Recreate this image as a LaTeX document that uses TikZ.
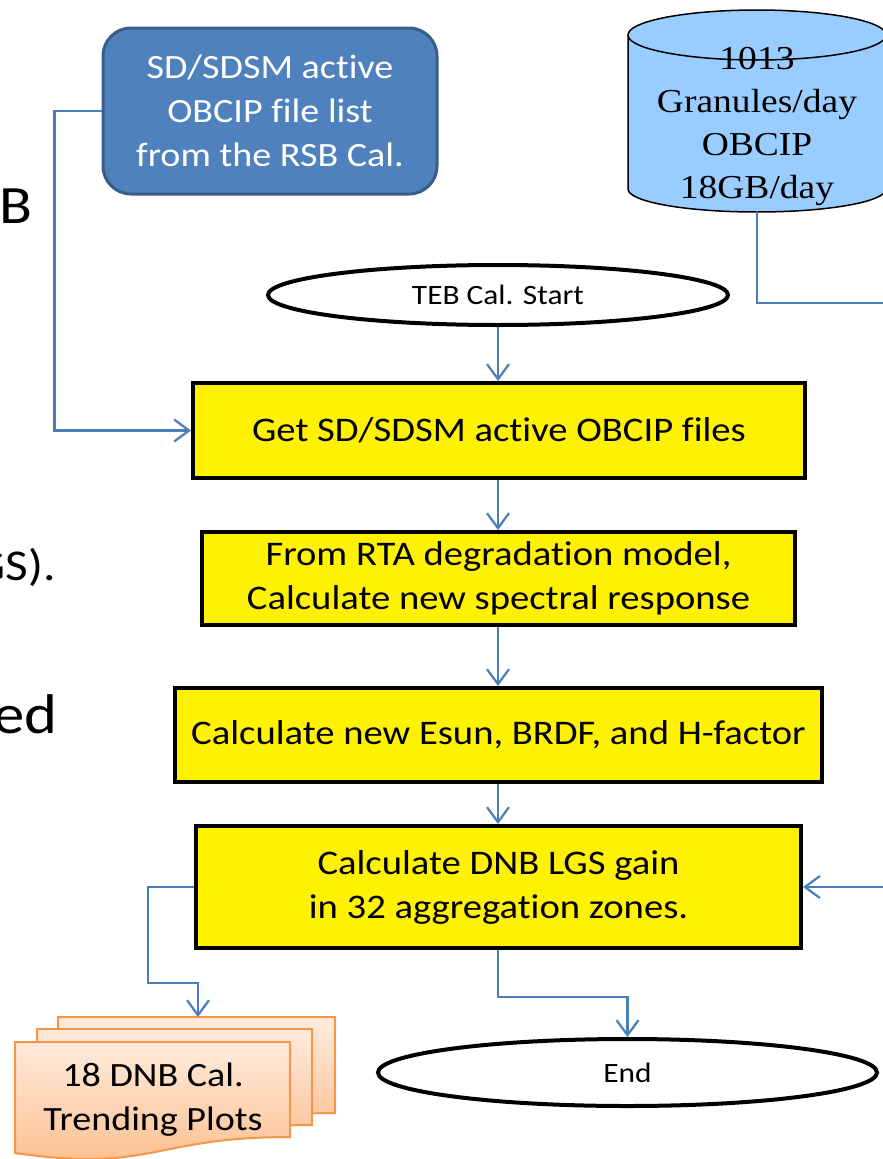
\documentclass[tikz,border=0pt]{standalone}
\usepackage{fontspec}
\setmainfont{Carlito}[FakeStretch=1.12,Ligatures={NoCommon}]
\newfontfamily\tmsfont{Liberation Serif}[FakeStretch=1.12]
\usetikzlibrary{shapes.geometric,arrows.meta}
\definecolor{lineblue}{HTML}{4A7EBB}
\definecolor{boxblue}{HTML}{4F81BD}
\definecolor{boxblueedge}{HTML}{385D8A}
\definecolor{cylblue}{HTML}{99CCFF}
\definecolor{docedge}{HTML}{F79646}
\definecolor{doctop}{HTML}{FFEBDD}
\definecolor{docbot}{HTML}{FBBC8A}
\tikzset{
 procbox/.style={draw=black, line width=4pt, fill=yellow, inner sep=0pt, align=center, font=\fontsize{34.5}{44}\selectfont},
 termin/.style={ellipse, draw=black, line width=4pt, fill=white, inner sep=0pt, font=\fontsize{28}{34}\selectfont},
 flow/.style={draw=lineblue, line width=2.2pt, -{Straight Barb[length=15pt,width=22pt,line width=2.2pt]}},
 plainline/.style={draw=lineblue, line width=2.2pt},
 docsheet/.style={draw=docedge, line width=2pt, top color=doctop, bottom color=docbot},
 frag/.style={inner sep=0pt, text=black}
}
\begin{document}
\begin{tikzpicture}[x=1pt,y=-1pt]
\useasboundingbox (0,0) rectangle (883,1159);

% left fragments of slide text
\node[frag, anchor=base west, font=\fontsize{54}{60}\selectfont] (fragB) at (-1,223) {B};
\node[frag, anchor=base east, font=\fontsize{44}{50}\selectfont] (fragS) at (56,580) {GS).};
\node[frag, anchor=base east, font=\fontsize{56}{60}\selectfont] (fragE) at (58,733) {ed};

% blue rounded box
\node[draw=boxblueedge, line width=3pt, fill=boxblue, rounded corners=28pt,
      minimum width=334pt, minimum height=166pt, inner sep=0pt, align=center,
      text=white, font=\fontsize{34}{44}\selectfont] (rsb) at (270,111)
      {SD/SDSM active\\OBCIP file list\\from the RSB Cal.};

% cylinder
\path[fill=cylblue, draw=black, line width=1.5pt]
  (628,35) -- (628,189)
  .. controls (628,201.7) and (685.8,212) .. (757,212)
  .. controls (828.2,212) and (886,201.7) .. (886,189)
  -- (886,35)
  .. controls (886,21.2) and (828.2,10) .. (757,10)
  .. controls (685.8,10) and (628,21.2) .. (628,35) -- cycle;
\draw[black, line width=1.5pt]
  (628,35) .. controls (628,48.8) and (685.8,60) .. (757,60)
  .. controls (828.2,60) and (886,48.8) .. (886,35);
\node[font=\tmsfont\fontsize{33.5}{43}\selectfont, align=center, inner sep=0pt] (cyl) at (757,126)
  {1013\\Granules/day\\OBCIP\\18GB/day};
\coordinate (cylbot) at (757,212);
\coordinate (offA) at (892,303);
\coordinate (offB) at (892,887);

% terminators
\node[termin, minimum width=460pt, minimum height=60pt] (teb) at (498,295) {TEB Cal. Start};
\node[termin, minimum width=499pt, minimum height=67pt] (endn) at (627.5,1072.5) {End};

% process boxes
\node[procbox, minimum width=612pt, minimum height=95pt] (box1) at (499,430.5) {Get SD/SDSM active OBCIP files};
\node[procbox, minimum width=593pt, minimum height=93pt] (box2) at (498.5,578.5) {From RTA degradation model,\\Calculate new spectral response};
\node[procbox, minimum width=647pt, minimum height=94pt] (box3) at (498.5,735) {Calculate new Esun, BRDF, and H-factor};
\node[procbox, minimum width=605pt, minimum height=122pt] (box4) at (498.5,887) {Calculate DNB LGS gain\\in 32 aggregation zones.};

% document stack
\path[docsheet] (58,1017) -- (335,1017) -- (335,1113) .. controls (196.5,1113) and (196.5,1149.5) .. (58,1128.8) -- cycle;
\path[docsheet] (37,1029) -- (312,1029) -- (312,1125) .. controls (174.5,1125) and (174.5,1161.5) .. (37,1140.8) -- cycle;
\path[docsheet] (15,1042) -- (290,1042) -- (290,1137) .. controls (152.5,1137) and (152.5,1173) .. (15,1153) -- cycle;
\node[font=\fontsize{34}{44}\selectfont, align=center, inner sep=0pt] (docs) at (153,1100) {18 DNB Cal.\\Trending Plots};
\coordinate (doctop) at (198,1017);

% connectors
\draw[flow] (rsb.west) -- ++(-47,0) |- (box1.west);
\draw[plainline] (cylbot) |- (offA);
\draw[flow] (teb.south) -- (teb.south |- box1.north);
\draw[flow] (box1.south -| teb.south) -- (teb.south |- box2.north);
\draw[flow] (box2.south -| teb.south) -- (teb.south |- box3.north);
\draw[flow] (box3.south -| teb.south) -- (teb.south |- box4.north);
\draw[flow] (offB) -- (box4.east);
\draw[flow] (box4.west) -- (148,887) -- (148,983) -| (doctop);
\draw[flow] (box4.south -| teb.south) -- ++(0,47) -| (endn.north);
\end{tikzpicture}
\end{document}
